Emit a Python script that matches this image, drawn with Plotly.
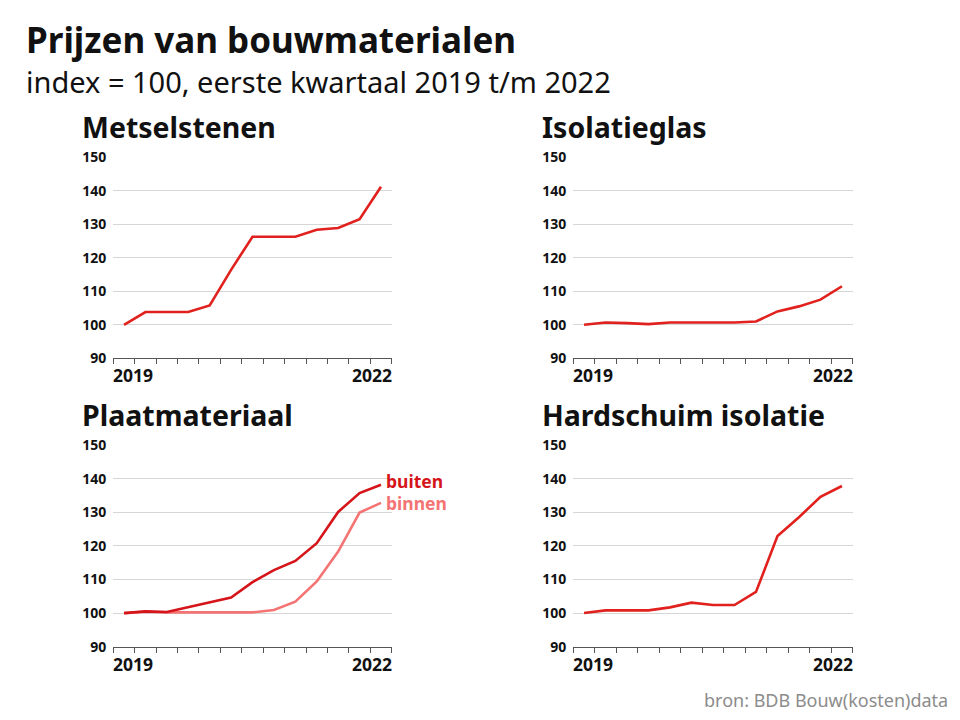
import plotly.graph_objects as go

# kwartalen 2019 Q1 t/m 2022 Q1 (13 punten)
quarters = ["2019-1", "2019-2", "2019-3", "2019-4", "2020-1", "2020-2", "2020-3",
            "2020-4", "2021-1", "2021-2", "2021-3", "2021-4", "2022-1"]
year_labels = ["2019", "2022"]
y_ticks = [90, 100, 110, 120, 130, 140, 150]

metselstenen = [100, 103.8, 103.8, 103.8, 105.8, 116.4, 126.3, 126.3, 126.3, 128.4, 128.9, 131.5, 141.2]
isolatieglas = [100, 100.7, 100.5, 100.2, 100.7, 100.7, 100.7, 100.7, 101.0, 104.0, 105.5, 107.5, 111.5]
plaat_buiten = [100, 100.5, 100.3, 101.8, 103.3, 104.6, 109.2, 112.8, 115.5, 120.8, 130.1, 135.7, 138.2]
plaat_binnen = [100, 100.4, 100.2, 100.2, 100.2, 100.2, 100.2, 100.9, 103.4, 109.4, 118.3, 129.9, 132.8]
hardschuim = [100, 100.8, 100.8, 100.8, 101.7, 103.1, 102.4, 102.4, 106.3, 122.9, 128.5, 134.6, 137.8]

panel_titles = ["Metselstenen", "Isolatieglas", "Plaatmateriaal", "Hardschuim isolatie"]

RED = "#e0211d"
DARKRED = "#d5151a"
PINK = "#f47474"
FONT = "Noto Sans"

# pagina heeft 8px body-marge, figuur iets kleiner dan het venster
W, H, OFF = 944, 704, 8


def xp(px_):
    return (px_ - OFF) / W


def yp(py_):
    return 1 - (py_ - OFF) / H


# x-positie: midden van elk kwartaal
xs = [i + 0.5 for i in range(len(quarters))]

fig = go.Figure()

panels = [
    ("x", "y", [(metselstenen, RED)]),
    ("x2", "y2", [(isolatieglas, RED)]),
    ("x3", "y3", [(plaat_binnen, PINK), (plaat_buiten, DARKRED)]),
    ("x4", "y4", [(hardschuim, RED)]),
]
for xa, ya, series in panels:
    for vals, col in series:
        fig.add_trace(go.Scatter(x=xs, y=vals, mode="lines", xaxis=xa, yaxis=ya,
                                 line=dict(color=col, width=2.6), hoverinfo="y",
                                 showlegend=False))

xdom = [[xp(113.3), xp(391.7)], [xp(573.3), xp(852.7)]]
ydom = [[yp(358.3), yp(157.3)], [yp(646.7), yp(445)]]

layout = dict(
    template="none",
    width=W, height=H,
    margin=dict(l=0, r=0, t=0, b=0, pad=0, autoexpand=False),
    paper_bgcolor="white", plot_bgcolor="white",
    font=dict(family=FONT, color="#111111"),
)
for i in range(4):
    sfx = "" if i == 0 else str(i + 1)
    col, row = i % 2, i // 2
    layout["xaxis" + sfx] = dict(
        domain=xdom[col], anchor="y" + sfx, range=[0, 13], automargin=False,
        tickvals=list(range(14)), showticklabels=False,
        ticks="outside", ticklen=5, tickcolor="#555555", tickwidth=1,
        showgrid=False, zeroline=False,
        showline=True, linecolor="#555555", linewidth=1.2,
    )
    layout["yaxis" + sfx] = dict(
        domain=ydom[row], anchor="x" + sfx, range=[90, 150], automargin=False,
        tickvals=y_ticks, ticks="", showline=False, zeroline=False,
        gridcolor="#d6d6d6", gridwidth=1,
        tickfont=dict(size=14, weight="bold", color="#111111"),
        ticklabelstandoff=6,
    )
fig.update_layout(**layout)

annotations = []
# jaarlabels onder de assen
for i in range(4):
    sfx = "" if i == 0 else str(i + 1)
    row = i // 2
    for lab, xv, anc in [(year_labels[0], 0, "left"), (year_labels[1], 13, "right")]:
        annotations.append(dict(
            x=xv, y=ydom[row][0], xref="x" + sfx, yref="paper",
            text="<b>%s</b>" % lab, showarrow=False, xanchor=anc, yanchor="top",
            yshift=-3, xshift=-2 if anc == "left" else 2,
            font=dict(size=17.5, color="#111111")))

# paneltitels
title_pos = [(80, 127), (540, 127), (80, 415), (540, 415)]
for t, (px_, py_) in zip(panel_titles, title_pos):
    annotations.append(dict(
        x=xp(px_), y=yp(py_), xref="paper", yref="paper",
        text="<b>%s</b>" % t, showarrow=False, xanchor="left", yanchor="middle",
        font=dict(size=28.5, color="#111111")))

# labels buiten / binnen
annotations.append(dict(x=xs[-1], y=plaat_buiten[-1], xref="x3", yref="y3",
                        text="<b>buiten</b>", showarrow=False, xanchor="left",
                        xshift=3, yshift=4, font=dict(size=17.5, color=DARKRED)))
annotations.append(dict(x=xs[-1], y=plaat_binnen[-1], xref="x3", yref="y3",
                        text="<b>binnen</b>", showarrow=False, xanchor="left",
                        xshift=3, yshift=0, font=dict(size=17.5, color=PINK)))

# titel, ondertitel, bron
annotations.append(dict(x=xp(24), y=yp(39.5), xref="paper", yref="paper",
                        text="<b>Prijzen van bouwmaterialen</b>", showarrow=False,
                        xanchor="left", yanchor="middle",
                        font=dict(size=35, color="#111111")))
annotations.append(dict(x=xp(24), y=yp(81), xref="paper", yref="paper",
                        text="index = 100, eerste kwartaal 2019 t/m 2022", showarrow=False,
                        xanchor="left", yanchor="middle",
                        font=dict(size=29, color="#111111")))
annotations.append(dict(x=xp(950), y=yp(700), xref="paper", yref="paper",
                        text="bron: BDB Bouw(kosten)data", showarrow=False,
                        xanchor="right", yanchor="middle",
                        font=dict(size=18, color="#8c8c8c")))

fig.update_layout(annotations=annotations)

fig.write_html("out.html")
